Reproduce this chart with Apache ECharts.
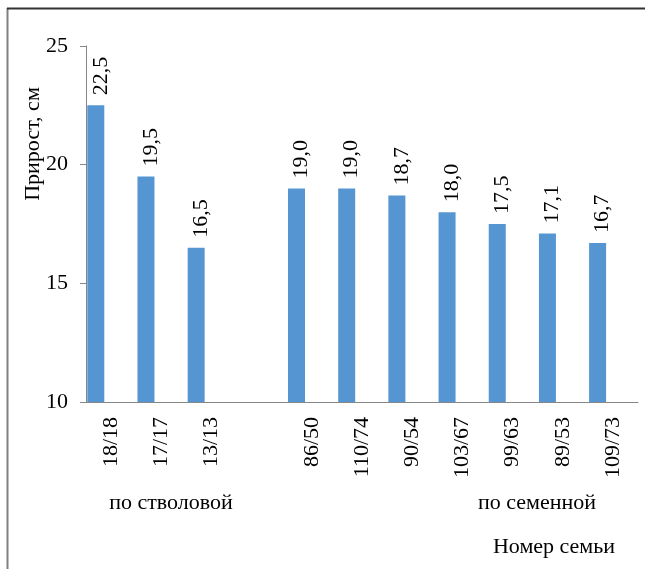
<!DOCTYPE html>
<html>
<head>
<meta charset="utf-8">
<script src="https://cdn.jsdelivr.net/npm/echarts@6/dist/echarts.min.js"></script>
<style>
    html, body { margin: 0; padding: 0; background: #fff; }
    #chart { width: 645px; height: 569px; }
</style>
</head>
<body>
<div id="chart"></div>
<script>
// номера семей (пустая категория — разрыв между группами)
const families = ['18/18', '17/17', '13/13', '', '86/50', '110/74', '90/54', '103/67', '99/63', '89/53', '109/73']
// прирост, см
const growth = [22.5, 19.5, 16.5, '-', 19.0, 19.0, 18.7, 18.0, 17.5, 17.1, 16.7]
const emptySeries = families.map(() => '-')
const yTicks = { min: 10, max: 25, step: 5 }

const font = 'Liberation Serif'
let myCharts = echarts.init(document.getElementById('chart'))
let option = {
    animation: false,
    textStyle: { fontFamily: font },
    grid: { left: 86, right: 7, top: 46, bottom: 167 },
    xAxis: {
        type: 'category',
        data: families,
        axisLine: { lineStyle: { color: '#868686', width: 1 } },
        axisTick: { show: false },
        axisLabel: {
            interval: 0,
            rotate: 90,
            margin: 15,
            color: '#000',
            fontSize: 22,
            fontFamily: font
        }
    },
    yAxis: {
        type: 'value',
        min: yTicks.min,
        max: yTicks.max,
        interval: yTicks.step,
        splitLine: { show: false },
        axisLine: { show: true, lineStyle: { color: '#868686', width: 1 } },
        axisTick: { show: true, length: 6, lineStyle: { color: '#868686' } },
        axisLabel: {
            margin: 18,
            color: '#000',
            fontSize: 22,
            fontFamily: font
        }
    },
    series: [
        {
            type: 'bar',
            data: growth,
            barWidth: 17,
            barGap: '80%',
            itemStyle: { color: '#5595d2' },
            label: {
                show: true,
                position: 'top',
                rotate: 90,
                align: 'left',
                verticalAlign: 'middle',
                distance: 10,
                offset: [0, 5],
                color: '#000',
                fontSize: 22,
                fontFamily: font,
                formatter: p => p.value.toFixed(1).replace('.', ',')
            }
        },
        {
            // пустая серия — сдвигает столбики влево, как в исходнике
            type: 'bar',
            data: emptySeries,
            barWidth: 17,
            barGap: '80%'
        }
    ],
    graphic: [
        { type: 'line', shape: { x1: 7.5, y1: 8, x2: 7.5, y2: 569 }, style: { stroke: '#808080', lineWidth: 2 } },
        { type: 'line', shape: { x1: 7, y1: 8.5, x2: 645, y2: 8.5 }, style: { stroke: '#333', lineWidth: 2 } },
        {
            type: 'text', x: 33, y: 144, rotation: Math.PI / 2,
            style: { text: 'Прирост, см', font: '22px ' + font, fill: '#000', align: 'center', verticalAlign: 'middle' }
        },
        {
            type: 'text', x: 171, y: 503,
            style: { text: 'по стволовой', font: '22px ' + font, fill: '#000', align: 'center', verticalAlign: 'middle' }
        },
        {
            type: 'text', x: 537, y: 503,
            style: { text: 'по семенной', font: '22px ' + font, fill: '#000', align: 'center', verticalAlign: 'middle' }
        },
        {
            type: 'text', x: 554, y: 547,
            style: { text: 'Номер семьи', font: '22px ' + font, fill: '#000', align: 'center', verticalAlign: 'middle' }
        }
    ]
}
myCharts.setOption(option)
</script>
</body>
</html>
